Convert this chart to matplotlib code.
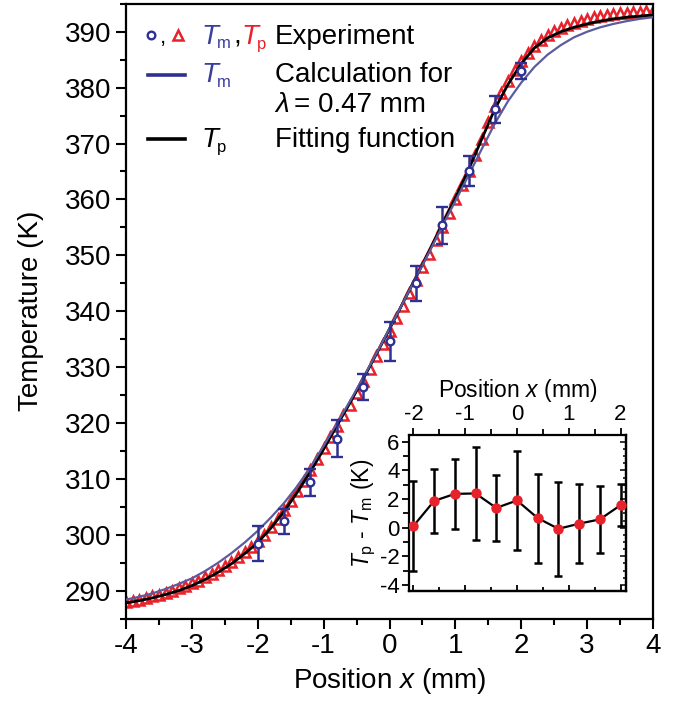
import matplotlib
matplotlib.use('Agg')
import matplotlib.pyplot as plt
from matplotlib.lines import Line2D
from matplotlib.ticker import MultipleLocator
import numpy as np

plt.rcParams['font.family'] = ['Liberation Sans', 'DejaVu Sans']
plt.rcParams['mathtext.fontset'] = 'custom'
plt.rcParams['mathtext.rm'] = 'Liberation Sans'
plt.rcParams['mathtext.it'] = 'Liberation Sans:italic'
plt.rcParams['axes.unicode_minus'] = False

# ---------------- data ----------------
# fitting function (Tp) and calculation (Tm, lambda = 0.47 mm), every 0.2 mm
curve_x = np.round(np.arange(-4.0, 4.001, 0.2), 1)
fit_T = [287.8, 288.2, 288.7, 289.3, 290.0, 290.9, 292.0, 293.3, 294.8, 296.6,
         298.6, 301.2, 304.2, 307.6, 311.3, 315.3, 319.5, 323.6, 327.9, 332.3,
         336.8, 341.4, 346.0, 350.7, 355.5, 360.3, 365.3, 370.8, 376.2, 380.6,
         384.3, 387.1, 388.9, 390.0, 390.8, 391.4, 391.9, 392.3, 392.6, 392.8, 393.0]
calc_T = [288.4, 288.9, 289.5, 290.3, 291.2, 292.2, 293.5, 295.0, 296.7, 298.6,
          300.7, 303.1, 305.7, 308.7, 312.1, 315.9, 319.9, 323.9, 328.1, 332.4,
          336.9, 341.4, 346.0, 350.5, 355.2, 359.7, 364.3, 369.0, 373.6, 377.6,
          380.9, 383.7, 385.9, 387.6, 389.0, 390.0, 390.8, 391.4, 391.9, 392.3, 392.6]

# experiment Tp (triangles), every 0.1 mm
tp_x = np.round(np.arange(-4.0, 4.001, 0.1), 1)
tp_T = [288.0, 288.2, 288.4, 288.7, 289.0, 289.3, 289.6, 290.0, 290.4, 290.8,
        291.3, 291.8, 292.4, 293.0, 293.7, 294.4, 295.2, 296.0, 296.9, 297.8,
        298.8, 300.0, 301.4, 302.9, 304.4, 306.1, 307.9, 309.7, 311.6, 313.5,
        315.5, 317.5, 319.5, 321.4, 323.3, 325.4, 327.5, 329.7, 331.9, 334.1,
        336.4, 338.7, 341.0, 343.3, 345.6, 347.9, 350.3, 352.7, 355.1, 357.5,
        360.0, 362.5, 365.1, 367.9, 370.8, 373.9, 376.7, 379.1, 381.2, 383.1,
        384.8, 386.2, 387.5, 388.5, 389.4, 390.1, 390.7, 391.2, 391.6, 392.0,
        392.3, 392.6, 392.8, 393.0, 393.2, 393.3, 393.4, 393.5, 393.6, 393.7, 393.8]

# experiment Tm (circles)
tm_x = [-2.0, -1.6, -1.2, -0.8, -0.4, 0.0, 0.4, 0.8, 1.2, 1.6, 2.0]
tm_T = [298.4, 302.4, 309.4, 317.2, 326.4, 334.6, 345.0, 355.4, 365.1, 376.1, 383.0]
tm_err = [3.1, 2.2, 2.4, 3.25, 2.3, 3.45, 3.1, 3.3, 2.75, 2.35, 1.45]

# inset: Tp - Tm
diff_x = [-2.0, -1.6, -1.2, -0.8, -0.4, 0.0, 0.4, 0.8, 1.2, 1.6, 2.0]
diff_T = [0.12, 1.87, 2.36, 2.39, 1.38, 1.90, 0.67, -0.08, 0.28, 0.58, 1.57]
diff_err = [3.14, 2.22, 2.43, 3.27, 2.33, 3.46, 3.11, 3.27, 2.77, 2.35, 1.45]

main_xticks = [-4, -3, -2, -1, 0, 1, 2, 3, 4]
main_yticks = [290, 300, 310, 320, 330, 340, 350, 360, 370, 380, 390]
inset_xticks = [-2, -1, 0, 1, 2]
inset_yticks = [-4, -2, 0, 2, 4, 6]

# ---------------- style ----------------
RED = '#E8222B'
BLUE = '#2E3192'
TXTBLUE = '#3A3F9E'
CALC = '#5A5C9E'
W, H = 678, 702

def fx(px):
    return px / W

def fy(py):
    return 1 - py / H

fig = plt.figure(figsize=(W / 100, H / 100), dpi=100)
ax = fig.add_axes([fx(126), fy(618.6), 527 / W, 614.8 / H])

ax.plot(tp_x, tp_T, ls='none', marker='^', mfc='none', mec=RED, ms=6.5, mew=1.8, zorder=2)
ax.plot(curve_x, fit_T, color='black', lw=2.0, zorder=3)
ax.plot(curve_x, calc_T, color=CALC, lw=1.6, zorder=4)
ax.errorbar(tm_x, tm_T, yerr=tm_err, fmt='o', mfc='white', mec=BLUE, color=BLUE,
            ms=5.5, mew=1.7, capsize=4.5, elinewidth=1.8, capthick=1.8, zorder=5)

ax.set_xlim(-4, 4)
ax.set_ylim(285, 395)
ax.set_xticks(main_xticks)
ax.set_yticks(main_yticks)
ax.xaxis.set_minor_locator(MultipleLocator(0.5))
ax.yaxis.set_minor_locator(MultipleLocator(5))
ax.tick_params(which='both', direction='out', width=1.5, labelsize=20, top=False, right=False)
ax.tick_params(which='major', length=7)
ax.tick_params(which='minor', length=4)
for s in ax.spines.values():
    s.set_linewidth(1.6)
ax.set_xlabel('Position $x$ (mm)', fontsize=20, labelpad=5)
ax.set_ylabel('Temperature (K)', fontsize=20, labelpad=15)

# ---------------- legend (hand-built) ----------------
fs = 20
sfs = 12

def tsub(x, yb, sub, color):
    fig.text(fx(x), fy(yb), 'T', fontsize=fs, style='italic', va='baseline', color=color)
    fig.text(fx(x + 15.5), fy(yb + 5), sub, fontsize=sfs, va='baseline', color=color)

fig.add_artist(Line2D([fx(150.7)], [fy(35)], marker='o', mfc='white', mec=BLUE, ms=5.5, mew=1.7))
fig.text(fx(160), fy(43.5), ',', fontsize=16, va='baseline', color='black')
fig.add_artist(Line2D([fx(178)], [fy(35)], marker='^', mfc='none', mec=RED, ms=6.5, mew=1.8))
tsub(201, 43.5, 'm', TXTBLUE)
fig.text(fx(233), fy(43.5), ',', fontsize=fs, va='baseline', color='black')
tsub(241, 43.5, 'p', RED)
fig.text(fx(275), fy(43.5), 'Experiment', fontsize=fs, va='baseline')

fig.add_artist(Line2D([fx(148), fx(185)], [fy(75), fy(75)], color=BLUE, lw=2.6))
tsub(201, 82, 'm', TXTBLUE)
fig.text(fx(275), fy(82), 'Calculation for', fontsize=fs, va='baseline')
fig.text(fx(275), fy(112), 'λ', fontsize=fs, va='baseline', style='italic')
fig.text(fx(294), fy(112), '= 0.47 mm', fontsize=fs, va='baseline')

fig.add_artist(Line2D([fx(148), fx(185)], [fy(139), fy(139)], color='black', lw=2.6))
tsub(201, 147, 'p', 'black')
fig.text(fx(275), fy(147), 'Fitting function', fontsize=fs, va='baseline')

# ---------------- inset ----------------
iax = fig.add_axes([fx(409.3), fy(591), 216.4 / W, 156 / H])
iax.errorbar(diff_x, diff_T, yerr=diff_err, fmt='-o', color='black', lw=1.6,
             mfc=RED, mec=RED, ms=6.5, elinewidth=1.8, capsize=3, capthick=1.8, zorder=3)
iax.set_xlim(-2.08, 2.1)
iax.set_ylim(-4.42, 6.47)
iax.xaxis.tick_top()
iax.xaxis.set_label_position('top')
iax.set_xticks(inset_xticks)
iax.set_yticks(inset_yticks)
iax.xaxis.set_minor_locator(MultipleLocator(0.5))
iax.yaxis.set_minor_locator(MultipleLocator(1))
iax.tick_params(which='both', direction='out', width=1.3, labelsize=16,
                top=True, bottom=False, right=False, left=True, pad=2)
iax.tick_params(which='major', length=5)
iax.tick_params(which='minor', length=4)
for s in iax.spines.values():
    s.set_linewidth(1.6)
iax.set_xlabel('Position $x$ (mm)', fontsize=16.5, labelpad=5)
iax.set_ylabel('$T_\\mathrm{p}$ - $T_\\mathrm{m}$ (K)', fontsize=16.5, labelpad=1)

sb = iax.secondary_xaxis('bottom')
sb.set_xticks(inset_xticks)
sb.xaxis.set_minor_locator(MultipleLocator(0.5))
sb.tick_params(which='both', direction='in', labelbottom=False, width=1.3)
sb.tick_params(which='major', length=4)
sb.tick_params(which='minor', length=3)
sb.spines['bottom'].set_linewidth(1.6)

sr = iax.secondary_yaxis('right')
sr.set_yticks(inset_yticks)
sr.yaxis.set_minor_locator(MultipleLocator(0.5))
sr.tick_params(which='both', direction='in', labelright=False, width=1.1)
sr.tick_params(which='major', length=4)
sr.tick_params(which='minor', length=2.5)
sr.spines['right'].set_linewidth(1.6)

fig.savefig('out.png', dpi=100)
